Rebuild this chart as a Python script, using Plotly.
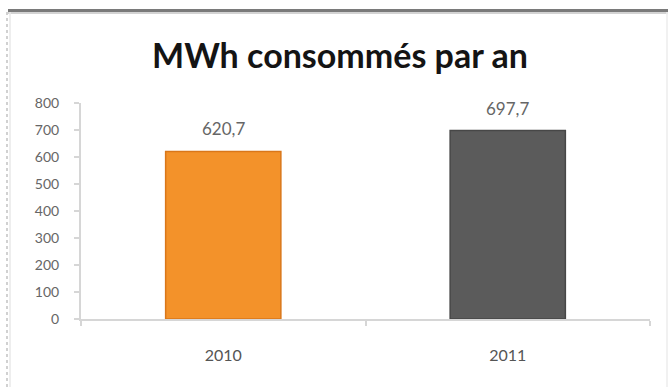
import plotly.graph_objects as go

# Annual consumption data
years = ["2010", "2011"]
mwh = [620.7, 697.7]
bar_colors = ["#F3922A", "#5B5B5B"]
bar_edges = ["#D9771A", "#474747"]
label_texts = ["620,7", "697,7"]
y_ticks = [0, 100, 200, 300, 400, 500, 600, 700, 800]

W, H = 668, 387
ML, MR, MT, MB = 81, 18, 103, 68
PW, PH = W - ML - MR, H - MT - MB


def px_x(x):
    return (x - ML) / PW


def px_y(y):
    return (H - MB - y) / PH


fig = go.Figure()
fig.add_trace(go.Bar(
    x=years,
    y=mwh,
    width=0.405,
    marker=dict(color=bar_colors, line=dict(color=bar_edges, width=1.5)),
    hoverinfo="skip",
))

# value labels above the bars (category index positions)
for i, (v, t) in enumerate(zip(mwh, label_texts)):
    fig.add_annotation(x=i, y=v, xref="x", yref="y", text=t, showarrow=False,
                       yanchor="bottom", yshift=10,
                       font=dict(family="Lato, Open Sans, sans-serif",
                                 size=17, color="#666666"))

# chart title
fig.add_annotation(xref="paper", yref="paper", x=px_x(340), y=px_y(54),
                   text="<b>MWh consommés par an</b>", showarrow=False,
                   xanchor="center", yanchor="middle",
                   font=dict(family="Lato, Open Sans, sans-serif", size=34, color="#141414"))

# frame around the chart
shapes = [
    dict(type="line", xref="paper", yref="paper", x0=px_x(8), x1=px_x(668),
         y0=px_y(10.5), y1=px_y(10.5), line=dict(color="#7a7a7a", width=3)),
    dict(type="line", xref="paper", yref="paper", x0=px_x(8), x1=px_x(668),
         y0=px_y(13), y1=px_y(13), line=dict(color="#c4c4c4", width=1.5)),
    dict(type="line", xref="paper", yref="paper", x0=px_x(7), x1=px_x(7),
         y0=px_y(12), y1=px_y(387), line=dict(color="#c2c2c2", width=1.5, dash="dot")),
    dict(type="line", xref="paper", yref="paper", x0=px_x(10), x1=px_x(10),
         y0=px_y(12), y1=px_y(387), line=dict(color="#e8e8e8", width=1.5)),
    dict(type="line", xref="paper", yref="paper", x0=px_x(667), x1=px_x(667),
         y0=px_y(12), y1=px_y(387), line=dict(color="#ececec", width=1.5)),
]

fig.update_layout(
    width=W, height=H, autosize=False,
    margin=dict(l=ML, r=MR, t=MT, b=MB, pad=0),
    paper_bgcolor="white", plot_bgcolor="white",
    showlegend=False,
    separators=", ",
    shapes=shapes,
    xaxis=dict(
        type="category", range=[-0.5, 1.5],
        showline=True, linecolor="#d6d6d6", linewidth=2,
        ticks="outside", tickson="boundaries", ticklen=5, tickcolor="#d6d6d6", tickwidth=2,
        showgrid=False, zeroline=False,
        tickfont=dict(family="Lato, Open Sans, sans-serif", size=16, color="#555555"),
        ticklabelstandoff=21,
    ),
    yaxis=dict(
        range=[0, 800], tickvals=y_ticks,
        showline=True, linecolor="#d6d6d6", linewidth=2,
        ticks="outside", ticklen=5, tickcolor="#d6d6d6", tickwidth=1.5,
        showgrid=False, zeroline=False,
        tickfont=dict(family="Lato, Open Sans, sans-serif", size=14, color="#666666"),
        ticklabelstandoff=12,
    ),
)

fig.write_html("out.html", config={"displayModeBar": False})
